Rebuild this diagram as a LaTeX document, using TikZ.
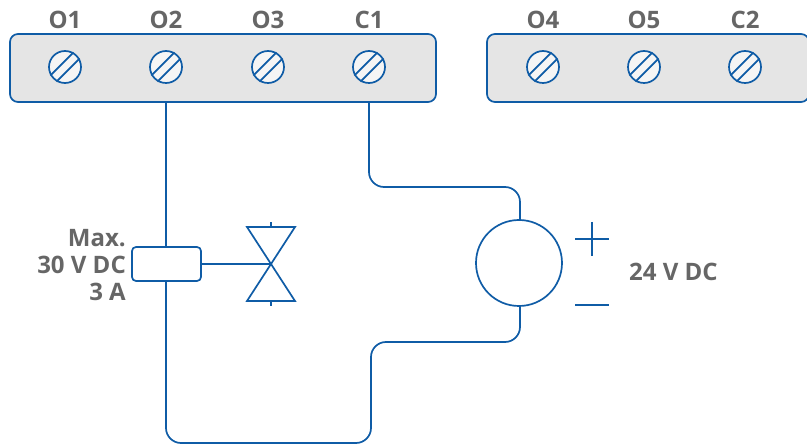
\documentclass[tikz,border=0pt]{standalone}
\usepackage{fontspec}
\setmainfont{Open Sans}
\usetikzlibrary{calc}
\definecolor{wireblue}{HTML}{0F5CA6}
\definecolor{labelgray}{HTML}{666666}
\definecolor{blockgray}{HTML}{E5E5E5}
\definecolor{screwgray}{HTML}{F5F5F5}
\tikzset{
   wire/.style={draw=wireblue, line width=1.7pt},
   termblock/.style={rectangle, wire, fill=blockgray, rounded corners=8pt, minimum height=68pt, inner sep=0pt},
   screw/.style={circle, wire, fill=screwgray, minimum size=32pt, inner sep=0pt},
   termlabel/.style={text=labelgray, font=\fontsize{24}{27}\selectfont\bfseries, inner sep=0pt}
}

\begin{document}
\begin{tikzpicture}[x=1pt, y=-1pt]
   \useasboundingbox (0,0) rectangle (807,446);
   % terminal blocks
   \node[termblock, minimum width=426pt] (blockA) at (223,68) {};
   \node[termblock, minimum width=322pt] (blockB) at (648,68) {};
   \foreach \name/\xpos in {O1/65, O2/166, O3/268, C1/369, O4/543, O5/644, C2/745} {
      \node[screw] (\name) at (\xpos,67) {};
      \node[termlabel] at (\xpos,20) {\name};
      \draw[wire] (\name.210) -- (\name.60);
      \draw[wire] (\name.240) -- (\name.30);
   }
   % relay contact and valve
   \node[rectangle, wire, rounded corners=4pt, minimum width=69pt, minimum height=34pt, inner sep=0pt] (relay) at (166.5,264) {};
   \node[coordinate] (valve) at (271,264) {};
   \node[coordinate] (valveTL) at (247,227) {};
   \node[coordinate] (valveTR) at (295,227) {};
   \node[coordinate] (valveBL) at (247,301) {};
   \node[coordinate] (valveBR) at (295,301) {};
   \node[coordinate] (valveT) at (271,227) {};
   \node[coordinate] (valveB) at (271,301) {};
   \node[coordinate] (valveTS) at (271,222) {};
   \node[coordinate] (valveBS) at (271,306) {};
   \draw[wire, line join=miter] (valve) -- (valveTL) -- (valveTR) -- cycle;
   \draw[wire, line join=miter] (valve) -- (valveBL) -- (valveBR) -- cycle;
   \draw[wire] (valveT) -- (valveTS);
   \draw[wire] (valveB) -- (valveBS);
   \draw[wire] (relay.east) -- (valve);
   \node[termlabel, anchor=east, align=right] (maxlabel) at (126,265) {Max.\\30 V DC\\3 A};
   % supply
   \node[circle, wire, minimum size=86pt, inner sep=0pt] (supply) at (519,263) {};
   \node[coordinate] (plusL) at (575,239) {};
   \node[coordinate] (plusR) at (609,239) {};
   \node[coordinate] (plusT) at (592,222) {};
   \node[coordinate] (plusB) at (592,256) {};
   \node[coordinate] (minusL) at (575,305) {};
   \node[coordinate] (minusR) at (609,305) {};
   \draw[wire] (plusL) -- (plusR);
   \draw[wire] (plusT) -- (plusB);
   \draw[wire] (minusL) -- (minusR);
   \node[termlabel, anchor=west] (supplylabel) at (629,272) {24 V DC};
   % wiring
   \node[coordinate] (bendA) at (369,187) {};
   \node[coordinate] (bendB) at (520,187) {};
   \node[coordinate] (bendC) at (166,443) {};
   \node[coordinate] (bendD) at (371,443) {};
   \node[coordinate] (bendE) at (371,342) {};
   \node[coordinate] (bendF) at (520,342) {};
   \draw[wire] (O2 |- blockA.south) -- (relay.north -| O2);
   \draw[wire, rounded corners=15pt] (C1 |- blockA.south) -- (bendA) -- (bendB) -- (bendB |- supply.north);
   \draw[wire, rounded corners=15pt] (relay.south -| O2) -- (bendC) -- (bendD) -- (bendE) -- (bendF) -- (bendF |- supply.south);
\end{tikzpicture}
\end{document}
